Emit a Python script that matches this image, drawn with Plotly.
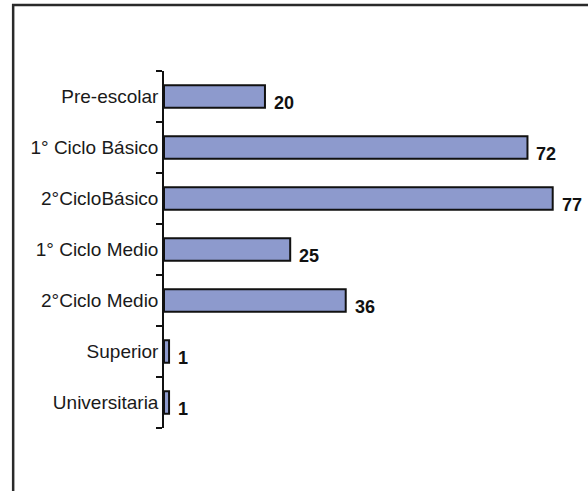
import plotly.graph_objects as go

# data (top to bottom)
categories = [
    "Pre-escolar",
    "1° Ciclo Básico",
    "2°CicloBásico",
    "1° Ciclo Medio",
    "2°Ciclo Medio",
    "Superior",
    "Universitaria",
]
values = [20, 72, 77, 25, 36, 1, 1]

BAR_FILL = "#8d9acd"
FONT = "Liberation Sans, Arial, sans-serif"

fig = go.Figure(
    go.Bar(
        x=values,
        y=categories,
        orientation="h",
        width=0.44,
        marker=dict(color=BAR_FILL, line=dict(color="#111111", width=2)),
        showlegend=False,
        hoverinfo="x+y",
    )
)

# value labels just right of each bar, slightly low like the original
for cat, val in zip(categories, values):
    fig.add_annotation(
        x=val,
        y=cat,
        text=f"<b>{val}</b>",
        showarrow=False,
        xanchor="left",
        xshift=7,
        yshift=-6,
        font=dict(family=FONT, size=18, color="#111111"),
    )

# outer frame of the chart area (runs off the right and bottom edges)
fig.add_shape(
    type="rect",
    xref="paper",
    yref="paper",
    x0=-0.36,
    x1=1.05,
    y0=-0.25,
    y1=1.185,
    line=dict(color="#2a2a2a", width=2.5),
    fillcolor="rgba(0,0,0,0)",
    layer="above",
)

fig.update_yaxes(
    categoryorder="array",
    categoryarray=categories[::-1],
    tickson="boundaries",
    ticks="outside",
    ticklen=6,
    tickwidth=1.5,
    tickcolor="#111111",
    showline=True,
    linecolor="#111111",
    linewidth=1.5,
    showgrid=False,
    tickfont=dict(family=FONT, size=19, color="#1a1a1a"),
)
fig.update_xaxes(
    range=[0, 83],
    visible=False,
    showgrid=False,
    zeroline=False,
)

fig.update_layout(
    width=588,
    height=491,
    margin=dict(l=164, r=5, t=71, b=63),
    plot_bgcolor="white",
    paper_bgcolor="white",
    bargap=0.56,
)

# drop the default page margin so the figure fills the window
fig.write_html(
    "out.html",
    config={"displayModeBar": False},
    post_script="document.body.style.margin='0px';",
)
